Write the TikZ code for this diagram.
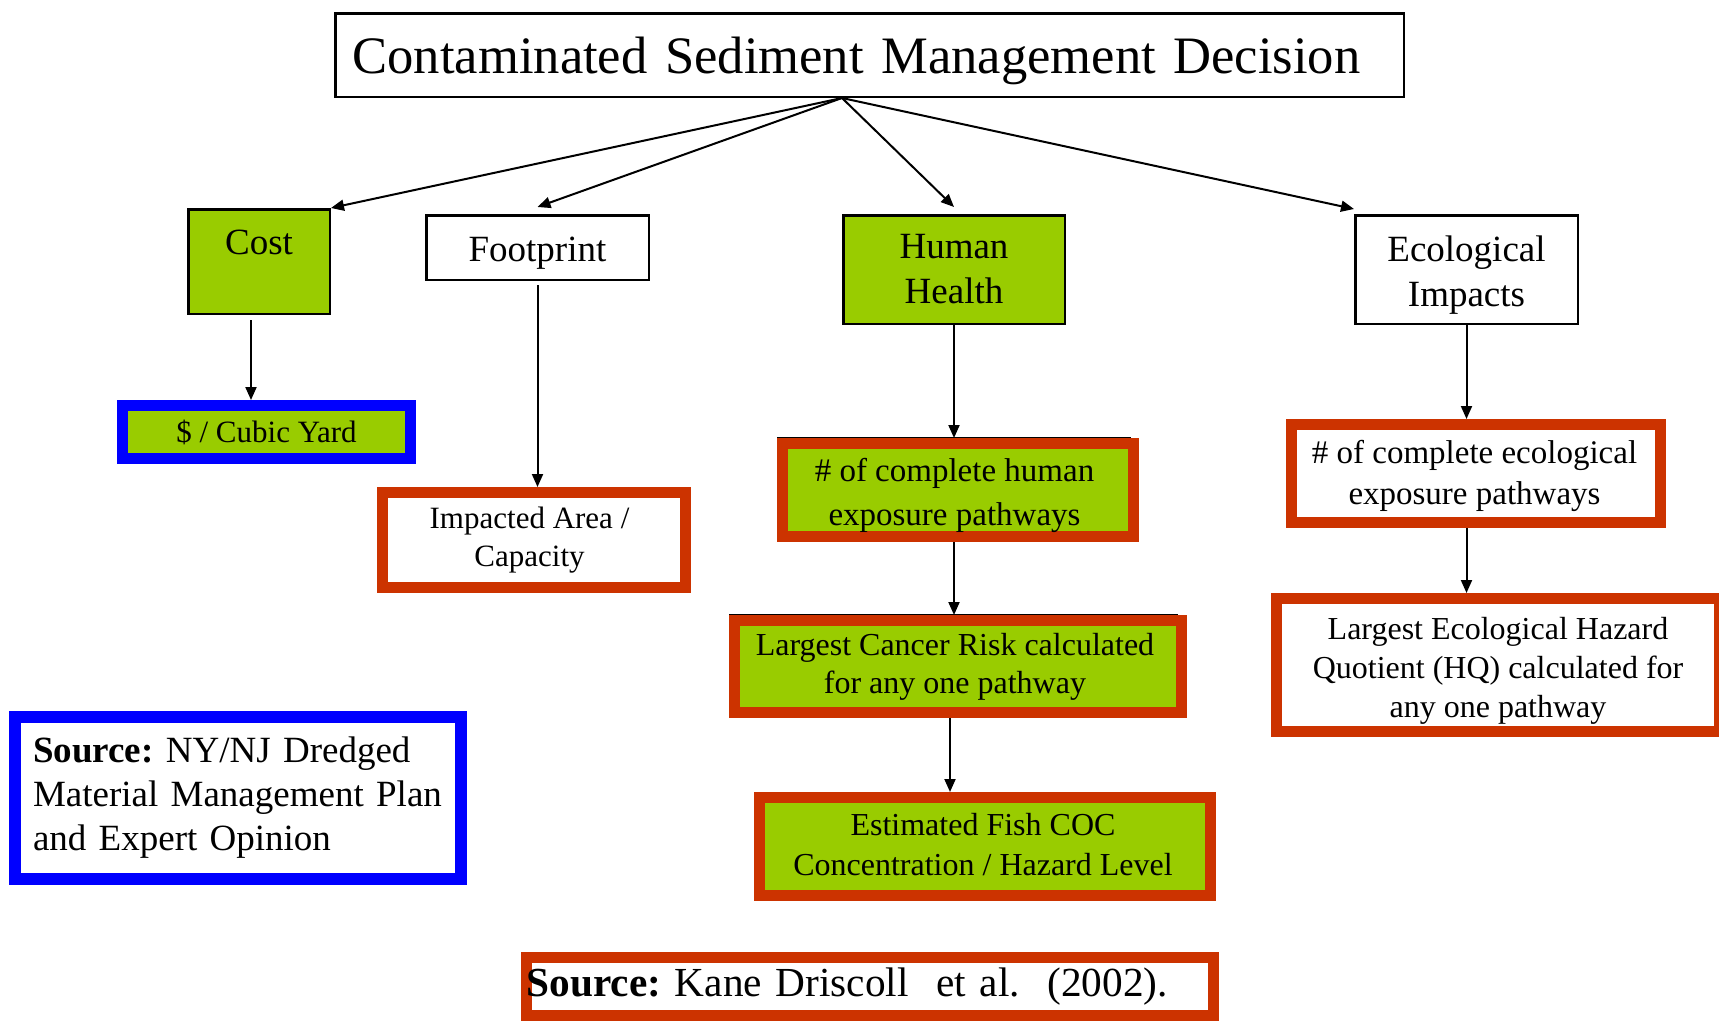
\documentclass[tikz,border=0pt]{standalone}
\usepackage{fontspec}
\setmainfont{Liberation Serif}
\usetikzlibrary{arrows.meta,calc}
\definecolor{mygreen}{HTML}{99CC00}
\definecolor{myred}{HTML}{CC3300}
\definecolor{myblue}{HTML}{0000FF}
\frenchspacing
% #1 vertical shift, #2 extra right padding, #3 lines
\newcommand\bxtxt[3]{\raisebox{#1}[\height][\depth]{\begin{tabular}{@{}c@{\hspace{#2}}}#3\end{tabular}}}
\begin{document}
\begin{tikzpicture}[x=1pt,y=-1pt,
  box/.style={draw=black, line width=2.5pt, inner sep=0pt, font=\fontsize{37}{45}\selectfont},
  redbox/.style={draw=myred, line width=11pt, inner sep=0pt},
  bluebox/.style={draw=myblue, line width=11pt, inner sep=0pt},
  arr/.style={line width=2pt, -{Triangle[length=13pt,width=11pt]}},
  topline/.style={line width=1.5pt, draw=black}]
\useasboundingbox (0,0) rectangle (1719,1021);
\clip (0,0) rectangle (1719,1021);

\node[box, minimum width=1068.5pt, minimum height=83.5pt, text width=1034pt, inner xsep=17pt, align=left, font=\fontsize{52.6}{60}\selectfont] (title) at (869.5,55) {\raisebox{-5.5pt}[\height][\depth]{Contaminated Sediment Management Decision}};

\node[box, fill=mygreen, minimum width=141.5pt, minimum height=104.5pt] (cost) at (259,261.5) {\raisebox{7.5pt}[0pt][0pt]{Cost}};
\node[box, minimum width=222.5pt, minimum height=64.5pt] (fp) at (537.5,247.5) {\raisebox{-5.5pt}[\height][\depth]{Footprint}};
\node[box, fill=mygreen, minimum width=221.5pt, minimum height=108.5pt] (hh) at (954,269.5) {\bxtxt{-2pt}{0pt}{Human\\Health}};
\node[box, minimum width=222.5pt, minimum height=108.5pt] (eco) at (1466.5,269.5) {\bxtxt{-5pt}{0pt}{Ecological\\Impacts}};

\node[bluebox, fill=mygreen, minimum width=288pt, minimum height=53pt, font=\fontsize{31}{37}\selectfont] (usd) at (266.5,432) {\$ / Cubic Yard};
\node[redbox, fill=white, minimum width=303pt, minimum height=95pt, font=\fontsize{31}{38}\selectfont] (imp) at (534,540) {\bxtxt{0pt}{9pt}{Impacted Area /\\Capacity}};
\node[redbox, fill=mygreen, minimum width=351pt, minimum height=93pt, font=\fontsize{33}{44}\selectfont] (hexp) at (958,490) {\bxtxt{-4.5pt}{7pt}{\# of complete human\\exposure pathways}};
\node[redbox, fill=mygreen, minimum width=447pt, minimum height=92pt, font=\fontsize{32}{38}\selectfont] (cancer) at (958,666.5) {\bxtxt{0pt}{6pt}{Largest Cancer Risk calculated\\for any one pathway}};
\node[redbox, fill=mygreen, minimum width=451pt, minimum height=98pt, font=\fontsize{32}{40}\selectfont] (fish) at (985,846.5) {\bxtxt{-1pt}{4pt}{Estimated Fish COC\\Concentration / Hazard Level}};
\node[redbox, fill=white, minimum width=369pt, minimum height=98pt, font=\fontsize{33}{41}\selectfont] (eexp) at (1476,473.5) {\bxtxt{-2.5pt}{3pt}{\# of complete ecological\\exposure pathways}};
\node[redbox, fill=white, minimum width=443pt, minimum height=133pt, font=\fontsize{32}{39}\selectfont] (ehq) at (1498,665) {\bxtxt{-5.5pt}{0pt}{Largest Ecological Hazard\\Quotient (HQ) calculated for\\any one pathway}};

\node[bluebox, fill=white, line width=12pt, minimum width=446pt, minimum height=162pt, text width=410pt, inner xsep=18pt, align=left, font=\fontsize{37}{44}\selectfont] (src1) at (238,798) {\textbf{Source:} NY/NJ Dredged\\Material Management Plan\\and Expert Opinion};
\node[redbox, fill=white, minimum width=687pt, minimum height=58pt, text width=687pt, inner xsep=0pt, align=left, font=\fontsize{41.3}{50}\selectfont] (src2) at (870,986.5) {\textbf{Source:} Kane Driscoll\ \ et al.\ \ (2002).};

% thin black lines along the top of two boxes
\draw[topline] ($(hexp.north west)+(0,-0.5)$) -- ($(hexp.north east)+(-8,-0.5)$);
\draw[topline] ($(cancer.north west)+(0,-0.5)$) -- ($(cancer.north east)+(-9,-0.5)$);

% connectors
\coordinate (root) at ([xshift=-27.5pt]title.south);
\draw[arr] (root) -- (cost.north east);
\draw[arr] (root) -- ($(fp.north)+(0,-7)$);
\draw[arr] (root) -- ($(hh.north)+(0,-7)$);
\draw[arr] (root) -- ($(eco.north west)+(0,-5)$);

\draw[arr] ($(cost.south)+(-8,5)$) -- ($(cost.south |- usd.north)+(-8,0)$);
\draw[arr] ($(fp.south)+(0,4)$) -- (fp.south |- imp.north);
\draw[arr] (hh.south) -- (hh.south |- hexp.north);
\draw[arr] (hh.south |- hexp.south) -- (hh.south |- cancer.north);
\draw[arr] ($(hh.south |- cancer.south)+(-4,0)$) -- ($(hh.south |- fish.north)+(-4,0)$);
\draw[arr] (eco.south) -- (eco.south |- eexp.north);
\draw[arr] (eco.south |- eexp.south) -- (eco.south |- ehq.north);
\end{tikzpicture}
\end{document}
